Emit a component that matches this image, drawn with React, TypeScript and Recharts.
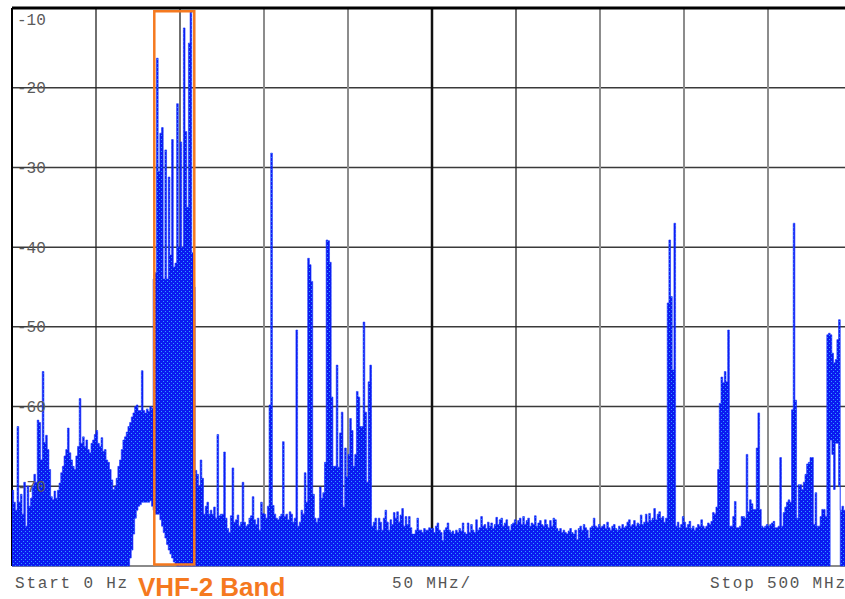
import React from "react";
import { AreaChart, Area, XAxis, YAxis, CartesianGrid, ReferenceArea } from "recharts";

// max-hold trace in dBm, one value per 1 MHz bin (0..499 MHz)
const peak0to50 = [
  -70.5, -72, -73, -62.5, -72, -71, -73.5, -69.5, -75, -70,
  -72.5, -71.5, -70, -68.5, -69.5, -61.7, -62, -66.7, -55.6, -64.5,
  -63.6, -65.4, -67.9, -71.3, -71.7, -70.6, -71.5, -70.5, -69.6, -68.3,
  -67.5, -66.2, -65.4, -62.7, -65.8, -66.7, -67.5, -67.9, -66.2, -65,
  -59, -64.6, -63.8, -65, -64.2, -65.4, -65.8, -64.6, -64.2, -63.5,
];
const peak50to100 = [
  -63, -64.6, -65, -63.9, -65.6, -65.4, -66.7, -67, -67.9, -69.2,
  -70.4, -70, -69, -67.5, -66.7, -65.4, -64.2, -63.8, -63.2, -62.5,
  -62, -61.3, -60.8, -60, -59.8, -60.5, -60.5, -55.5, -60.5, -60.8,
  -60.3, -60.6, -60, -60.2, -44, -43.2, -16.3, -30.5, -25.7, -25,
  -44, -27.8, -44, -31.2, -41, -26.5, -42.5, -42, -22, -40,
];
const peak100to150 = [
  -26.8, -40, -12.5, -25.5, -35, -14.4, -10.5, -40.7, -45, -68,
  -68.5, -70, -66.7, -69, -73.5, -72.5, -72, -73.5, -73, -73.5,
  -72.6, -74, -63.5, -73.7, -73.5, -73.5, -65.7, -74, -75.3, -75.8,
  -73.7, -67.7, -74.5, -74.2, -73.6, -75, -74.5, -69.5, -74.5, -75,
  -74.8, -74, -73.7, -71.3, -74.2, -74.8, -74, -75.5, -72, -73.4,
];
const peak150to200 = [
  -73.5, -74, -72.5, -59.8, -28.2, -72.4, -73.5, -74, -74.2, -73.8,
  -73.5, -64.4, -73.8, -73.5, -74.2, -73.2, -73.5, -74.5, -74, -50.4,
  -75, -74.5, -73, -73.5, -68.3, -72, -41.4, -42.2, -44.3, -71,
  -74, -74.5, -74, -70.1, -71.5, -70.8, -67, -39.1, -39.2, -41.9,
  -58.8, -67.5, -67.5, -54.8, -67.6, -63.3, -60.7, -72.6, -65.2, -68.8,
];
const peak200to250 = [
  -66, -61.5, -63, -67.5, -66, -58.1, -58.8, -62.5, -62.5, -49.4,
  -60.7, -69.5, -56.9, -54.8, -75, -74.5, -74, -75.5, -74, -74.5,
  -75.5, -74, -73, -74.5, -75.5, -74.2, -74.8, -73.3, -74, -73.2,
  -74.5, -73.6, -72.8, -75, -73.8, -74.8, -73.8, -75.2, -76, -76,
  -75.5, -74, -75.5, -75.5, -75.8, -75.3, -75.5, -75.5, -75.2, -75.3,
];
const peak250to300 = [
  -75.3, -75.8, -75, -74.6, -75.5, -75.8, -76.8, -75.5, -75.2, -74.6,
  -75.5, -75.8, -75.6, -76, -75.5, -75.8, -75.3, -75.6, -74.6, -75.8,
  -76, -74.6, -75.8, -74.8, -75.5, -75.8, -74.2, -75.5, -75.2, -73.8,
  -75, -74.8, -75.3, -74.5, -75, -74.6, -75.3, -74.8, -73.9, -74.8,
  -74.2, -74, -75, -74.6, -74.2, -75, -75.5, -74.8, -74.6, -74.2,
];
const peak300to350 = [
  -74.8, -74.3, -74, -74.8, -73.8, -74.8, -74.3, -74, -75, -74.6,
  -74.8, -73.7, -75, -74.6, -74.3, -74.8, -75, -74.2, -74.8, -75.2,
  -74.3, -75, -74, -74.2, -75.3, -75.6, -75.3, -75.8, -75.5, -75.8,
  -76, -75.6, -75.3, -75.8, -76, -75.5, -76.7, -75.3, -75, -75.5,
  -74.8, -75.2, -75.5, -76.5, -75.2, -75, -74, -75, -75.2, -74.8,
];
const peak350to400 = [
  -75.2, -75, -74.8, -75.3, -74.5, -75.2, -75.5, -75, -74.8, -75.3,
  -75.5, -75, -75.3, -74.8, -75.2, -75, -74.5, -74.2, -75, -74.8,
  -74.3, -75, -74.6, -74.8, -73.6, -74.8, -74.5, -73.5, -74.5, -73.4,
  -74.3, -74, -72.8, -74.2, -73.5, -73.2, -74, -73.8, -74.5, -74,
  -47, -39.1, -46.2, -55.4, -37, -75, -74.5, -75.2, -74.8, -73.8,
];
const peak400to450 = [
  -74.5, -75.2, -74.8, -74.4, -75.3, -75, -75.5, -75.2, -74.8, -75,
  -74.2, -75, -75.3, -75, -74.6, -74.8, -74.4, -73.3, -73.5, -72.6,
  -67.9, -59.6, -56.3, -57, -55.6, -56.9, -50.4, -75, -75, -73.8,
  -71.9, -75.2, -75.2, -75, -73.8, -73.8, -74, -66, -73.2, -71.7,
  -72.2, -72.9, -72.9, -65.2, -60.8, -72.9, -75, -75.2, -75, -74.8,
];
const peak450to500 = [
  -75, -74.8, -74.6, -74.4, -75.2, -75.2, -75, -66.4, -75, -73.3,
  -72.6, -72, -71.7, -72, -60.4, -37, -59.2, -74, -69.8, -69.8,
  -70.4, -69.5, -68.5, -67.2, -67, -66.4, -66.4, -74.8, -70.8, -75,
  -75, -73.8, -72.9, -72.9, -73.8, -51, -50.8, -51, -53.3, -54.5,
  -54.1, -51.6, -49.1, -73, -72.5, -73, -73, -73, -73, -73,
];

const traceMax = [
  ...peak0to50, ...peak50to100, ...peak100to150, ...peak150to200, ...peak200to250,
  ...peak250to300, ...peak300to350, ...peak350to400, ...peak400to450, ...peak450to500,
];

// bins where the min trace lifts off the bottom (the white holes) [MHz, dBm]
const raisedMin: Array<[number, number]> = [
  [70, -79], [71, -78], [72, -76], [73, -74], [74, -73], [75, -72.5], [76, -72.3],
  [77, -72], [78, -72], [79, -72], [80, -72], [81, -72], [82, -71.8], [83, -72.5],
  [84, -73], [85, -73.5], [86, -73.5], [87, -73.5], [88, -74.2], [89, -75], [90, -75.8],
  [91, -76.5], [92, -77.3], [93, -78], [94, -78.5], [95, -79], [96, -79.5], [97, -79.8],
  [487, -64.2], [488, -66], [489, -70.4], [490, -64.6], [491, -64.6], [492, -70],
];

const levelTicks = [-10, -20, -30, -40, -50, -60, -70];
const gridLevels = [-20, -30, -40, -50, -60, -70];
const darkFreqs = [50, 100, 300];
const greyFreqs = [150, 200, 350, 400, 450];
const freqTicks = [0, 250, 500];
const freqText: Record<number, string> = { 0: "Start 0 Hz", 250: "50 MHz/", 500: "Stop 500 MHz" };
const band = { from: 84.7, to: 108.5, top: -10.4, bottom: -79.8, name: "VHF-2 Band" };

const minAt = new Map(raisedMin);
const rows = traceMax.map((hi, mhz) => ({ mhz, range: [minAt.get(mhz) ?? -80, hi] }));
rows.push({ mhz: 500, range: [-80, traceMax[traceMax.length - 1]] });

const mono = "'Liberation Mono', 'DejaVu Sans Mono', monospace";
const orange = "#f5791f";

function LevelTick({ y, payload }: any) {
  const dy = payload.value === -10 ? 16.5 : 5.5;
  return (
    <text x={9} y={y + dy} fontFamily={mono} fontSize={16} fill="#5a5a5a">
      {payload.value}
    </text>
  );
}

function FreqTick({ x, y, payload }: any) {
  const v = payload.value;
  const dx = v === 0 ? 3 : v === 500 ? -142 : 0;
  return (
    <text
      x={x + dx}
      y={y + 22}
      textAnchor={v === 250 ? "middle" : "start"}
      fontFamily={mono}
      fontSize={16}
      letterSpacing={1.8}
      fill="#555"
    >
      {freqText[v]}
    </text>
  );
}

export default function App() {
  return (
    <div style={{ position: "fixed", left: 0, top: 0, width: 845, height: 599, overflow: "hidden", background: "#fff" }}>
      <div style={{ position: "absolute", left: 8, top: 6 }}>
        <AreaChart width={860} height={593} data={rows} margin={{ top: 2, right: 16, bottom: 0, left: 3 }}>
          <defs>
            <pattern id="speckle" width="4" height="4" patternUnits="userSpaceOnUse">
              <rect width="4" height="4" fill="#0b1af0" />
              <rect x="1" y="1" width="1" height="1" fill="#2f9dff" />
              <rect x="3" y="3" width="1" height="1" fill="#2f9dff" />
            </pattern>
          </defs>
          <CartesianGrid horizontalValues={gridLevels} vertical={false} stroke="#3a3a3a" strokeWidth={1.5} />
          <CartesianGrid horizontal={false} verticalValues={darkFreqs} stroke="#222" strokeWidth={1.3} />
          <CartesianGrid horizontal={false} verticalValues={greyFreqs} stroke="#8c8c8c" strokeWidth={2} />
          <CartesianGrid horizontal={false} verticalValues={[250]} stroke="#111" strokeWidth={2.5} />
          <CartesianGrid horizontal={false} verticalValues={[0]} stroke="#000" strokeWidth={2} />
          <CartesianGrid vertical={false} horizontalValues={[-10]} stroke="#000" strokeWidth={3} />
          <CartesianGrid vertical={false} horizontalValues={[-80]} stroke="#8a8a8a" strokeWidth={2} />
          <YAxis
            type="number"
            domain={[-80, -10]}
            ticks={levelTicks}
            width={1}
            axisLine={false}
            tickLine={false}
            tickSize={0}
            tickMargin={0}
            tick={<LevelTick />}
            interval={0}
          />
          <XAxis
            dataKey="mhz"
            type="number"
            domain={[0, 500]}
            ticks={freqTicks}
            height={33}
            axisLine={false}
            tickLine={false}
            tickSize={0}
            tickMargin={0}
            tick={<FreqTick />}
            interval={0}
          />
          <Area
            dataKey="range"
            type="stepAfter"
            fill="url(#speckle)"
            fillOpacity={1}
            stroke="#1530ff"
            strokeWidth={0.6}
            dot={false}
            activeDot={false}
            isAnimationActive={false}
          />
          <ReferenceArea
            x1={band.from}
            x2={band.to}
            y1={band.bottom}
            y2={band.top}
            fill="none"
            fillOpacity={0}
            stroke={orange}
            strokeWidth={2.5}
          />
        </AreaChart>
      </div>
      <div
        style={{
          position: "absolute",
          left: 138,
          top: 575.5,
          fontFamily: "'Liberation Sans', Arial, sans-serif",
          fontWeight: "bold",
          fontSize: 26,
          lineHeight: "22px",
          color: orange,
          whiteSpace: "nowrap",
        }}
      >
        {band.name}
      </div>
    </div>
  );
}
